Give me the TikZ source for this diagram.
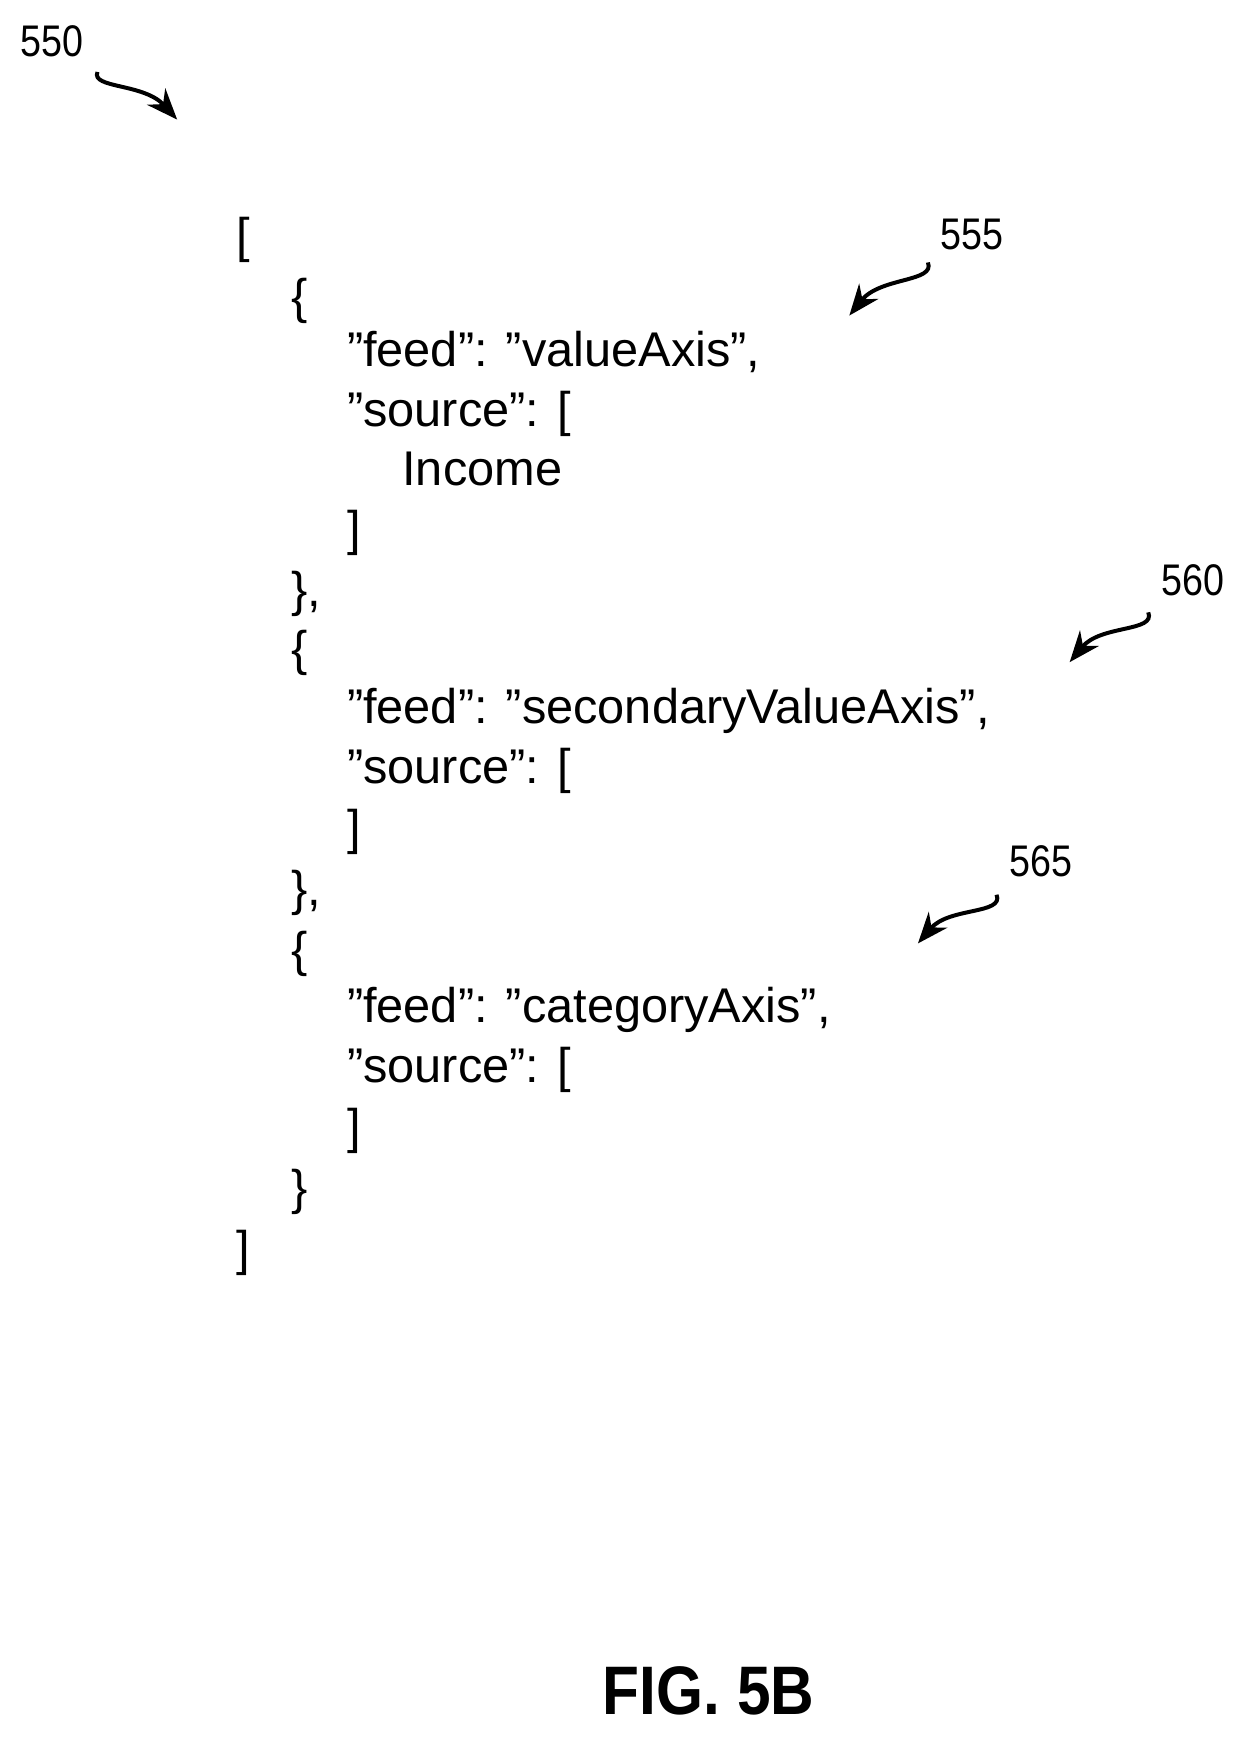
\documentclass[tikz,border=0pt]{standalone}
\usepackage{fontspec}
\setmainfont{Liberation Sans}
\usetikzlibrary{arrows.meta}
\newcommand\qq{\char34\relax}
\begin{document}
\begin{tikzpicture}[x=0.5pt,y=-0.5pt,
  code/.style={anchor=base west,inner sep=0pt,font=\fontsize{22}{26}\selectfont},
  lbl/.style={inner sep=0pt,xscale=0.85,font=\fontsize{20}{24}\selectfont},
  ref/.style={line width=1.8pt,-{Stealth[length=14pt,width=11pt]}}]
\useasboundingbox (0,0) rectangle (1130,1575);
\def\b{13}
\node[code] (l1) at (213,215+\b) {[};
\node[code] (l2) at (263,270+\b) {\{};
\node[code] (l3) at (313,318+\b) {\qq feed\qq: \qq valueAxis\qq,};
\node[code] (l4) at (313,372+\b) {\qq source\qq: [};
\node[code] (l5) at (363,425+\b) {Income};
\node[code] (l6) at (313,480+\b) {]};
\node[code] (l7) at (263,535+\b) {\},};
\node[code] (l8) at (263,588+\b) {\{};
\node[code] (l9) at (313,640+\b) {\qq feed\qq: \qq secondaryValueAxis\qq,};
\node[code] (l10) at (313,695+\b) {\qq source\qq: [};
\node[code] (l11) at (313,750+\b) {]};
\node[code] (l12) at (263,805+\b) {\},};
\node[code] (l13) at (263,860+\b) {\{};
\node[code] (l14) at (313,910+\b) {\qq feed\qq: \qq categoryAxis\qq,};
\node[code] (l15) at (313,965+\b) {\qq source\qq: [};
\node[code] (l16) at (313,1020+\b) {]};
\node[code] (l17) at (263,1075+\b) {\}};
\node[code] (l18) at (213,1130+\b) {]};
\node[lbl] (n550) at (47,37) {550};
\node[lbl] (n555) at (878,212) {555};
\node[lbl] (n560) at (1077,524) {560};
\node[lbl] (n565) at (940,778) {565};
\node[inner sep=0pt,xscale=0.88,font=\fontsize{31}{36}\selectfont\bfseries] (fig) at (640,1527) {FIG. 5B};
\coordinate (a1s) at (88,65); \coordinate (a1e) at (160,108);
\draw[ref] (a1s) .. controls (82,80) and (130,75) .. (a1e);
\coordinate (a2s) at (838,237); \coordinate (a2e) at (767,285);
\draw[ref] (a2s) .. controls (845,255) and (795,250) .. (a2e);
\coordinate (a3s) at (1037,553); \coordinate (a3e) at (966,598);
\draw[ref] (a3s) .. controls (1044,571) and (994,564) .. (a3e);
\coordinate (a4s) at (900,808); \coordinate (a4e) at (829,852);
\draw[ref] (a4s) .. controls (907,826) and (857,819) .. (a4e);
\end{tikzpicture}
\end{document}
